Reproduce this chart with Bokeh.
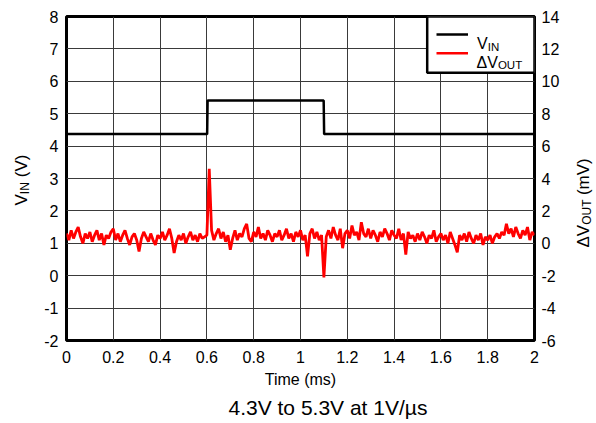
from math import pi
from bokeh.plotting import figure
from bokeh.models import Range1d, LinearAxis, FixedTicker, Label, BoxAnnotation, Title
from bokeh.embed import file_html
from bokeh.resources import INLINE

# ---------------- data ----------------
x_ticks = [0, 0.2, 0.4, 0.6, 0.8, 1.0, 1.2, 1.4, 1.6, 1.8, 2.0]
x_tick_labels = ["0", "0.2", "0.4", "0.6", "0.8", "1", "1.2", "1.4", "1.6", "1.8", "2"]
vin_ticks = [-2, -1, 0, 1, 2, 3, 4, 5, 6, 7, 8]
vin_tick_labels = ["-2", "-1", "0", "1", "2", "3", "4", "5", "6", "7", "8"]
dv_ticks = [-6, -4, -2, 0, 2, 4, 6, 8, 10, 12, 14]
dv_tick_labels = ["-6", "-4", "-2", "0", "2", "4", "6", "8", "10", "12", "14"]

vin_time = [0.0, 0.601, 0.603, 1.099, 1.101, 2.0]
vin_values = [4.37, 4.37, 5.41, 5.41, 4.37, 4.37]

dv_values = [
    0.6, 0.2, 0.8, 0.3, 0.7, 1.0, 0.4, 0.0, 0.6, 0.3,
    0.7, 0.1, 0.5, 0.8, 0.2, 0.6, -0.1, 0.5, 0.3, 0.7,
    0.9, 0.2, 0.6, 0.1, 0.5, 0.8, 0.3, -0.1, 0.4, 0.6,
    0.2, -0.5, 0.3, 0.7, 0.4, 0.1, 0.6, 0.2, -0.1, 0.5,
    0.3, 0.7, 0.2, 0.5, 0.9, 0.3, -0.6, 0.1, 0.5, 0.2,
    0.6, 0.0, 0.4, 0.7, 0.2, 0.5, 0.1, 0.6, 0.3, 0.4,
    0.5, 4.6, 0.8, 0.2, 0.6, 0.9, 0.3, 0.7, 0.1, 0.5,
    -0.4, 0.3, 0.8, 0.2, 0.6, 0.4, 0.9, 1.2, 0.3, 0.1,
    0.7, 0.4, 1.0, 0.3, 0.6, 0.2, 0.8, 0.5, 0.1, 0.6,
    0.4, 0.8, 0.2, 0.5, 0.9, 0.3, 0.6, 0.1, 0.7, 0.4,
    0.8, 0.2, 0.5, -0.8, 0.6, 0.9, 0.3, 0.7, 0.2, 0.5,
    -2.1, 0.4, 0.8, 0.3, 1.0, 0.5, 0.2, 0.9, -0.3, 0.6,
    0.8, 0.3, 1.1, 0.5, 0.7, 0.2, 1.3, 0.6, 0.4, 0.9,
    0.3, 0.8, 0.5, 0.1, 0.7, 0.4, 0.9, 0.6, 0.2, 0.8,
    0.5, 0.3, 0.9, 0.2, 0.6, -0.7, 0.7, 0.3, 0.5, 0.1,
    0.6, 0.2, 0.7, 0.4, 0.0, 0.5, 0.3, 0.8, 0.1, 0.4,
    0.6, 0.2, 0.5, 0.0, 0.7, 0.3, -0.1, -0.55, 0.5, 0.2,
    0.6, 0.1, 0.7, 0.3, 0.0, 0.5, 0.2, 0.6, -0.1, 0.4,
    0.2, 0.5, 0.0, 0.4, 0.6, 0.3, 0.7, 0.5, 1.2, 0.6,
    0.9, 0.4, 1.0, 0.6, 0.3, 0.8, 0.5, 1.0, 0.2, 0.7,
    0.5,
]
dv_time = [round(i * 0.01, 2) for i in range(len(dv_values))]

# ---------------- layout helpers (window px -> left-axis data coords) ----------------
W, H = 596, 423
FL, FR, FT, FB = 66, 534, 16, 340
def X(wx):
    return (wx - FL) / (FR - FL) * 2.0
def Y(wy):
    return 8 - (wy - FT) / (FB - FT) * 10.0

FONT = "Liberation Sans"

p = figure(width=W, height=H, x_range=Range1d(0, 2), y_range=Range1d(-2, 8),
           output_backend="svg", toolbar_location=None,
           min_border_left=FL, min_border_right=W - FR,
           min_border_top=FT, min_border_bottom=H - FB)
p.extra_y_ranges = {"dv": Range1d(-6, 14)}
p.add_layout(LinearAxis(y_range_name="dv"), "right")

p.background_fill_color = "white"
p.border_fill_color = "white"
p.outline_line_color = "black"
p.outline_line_width = 3
p.outline_line_alpha = 1

p.xaxis.ticker = FixedTicker(ticks=x_ticks)
p.xaxis.major_label_overrides = dict(zip(x_ticks, x_tick_labels))
p.yaxis[0].ticker = FixedTicker(ticks=vin_ticks)
p.yaxis[0].major_label_overrides = dict(zip(vin_ticks, vin_tick_labels))
p.yaxis[1].ticker = FixedTicker(ticks=dv_ticks)
p.yaxis[1].major_label_overrides = dict(zip(dv_ticks, dv_tick_labels))

for ax in p.axis:
    ax.axis_line_color = None
    ax.major_tick_line_color = None
    ax.minor_tick_line_color = None
    ax.major_tick_out = 0
    ax.major_tick_in = 0
    ax.major_label_text_font = FONT
    ax.major_label_text_font_size = "16px"
    ax.major_label_text_color = "black"
p.xaxis.major_label_standoff = 10
p.yaxis[0].major_label_standoff = 8
p.yaxis[1].major_label_standoff = 7

p.xaxis.axis_label = "Time (ms)"
p.xaxis.axis_label_text_font = FONT
p.xaxis.axis_label_text_font_size = "16px"
p.xaxis.axis_label_text_font_style = "normal"
p.xaxis.axis_label_text_color = "black"
p.xaxis.axis_label_standoff = 5

p.add_layout(Title(text="4.3V to 5.3V at 1V/\u00b5s", align="left", offset=162,
                   text_font=FONT, text_font_size="21px", text_font_style="normal",
                   text_color="black", standoff=6), "below")

p.xgrid.ticker = FixedTicker(ticks=x_ticks)
p.ygrid.ticker = FixedTicker(ticks=vin_ticks)
p.grid.grid_line_color = "#3a3a3a"
p.grid.grid_line_width = 1
p.grid.grid_line_alpha = 1

# legend box
p.add_layout(BoxAnnotation(left=X(426.7), right=2, top=8, bottom=Y(72.3),
                           fill_color="white", fill_alpha=1, line_color="black",
                           line_width=2.5, line_alpha=1, level="underlay"))

# data
p.line(vin_time, vin_values, line_color="black", line_width=2.5)
p.line(dv_time, dv_values, line_color="#ff0000", line_width=2.8, y_range_name="dv")

# legend samples
p.segment(x0=[X(436)], y0=[Y(34)], x1=[X(467.5)], y1=[Y(34)], line_color="black", line_width=2.5)
p.segment(x0=[X(436)], y0=[Y(52.7)], x1=[X(467.5)], y1=[Y(52.7)], line_color="#ff0000", line_width=2.5)

def lab(text, wx, wy, size, align="left", angle=0.0, side="center"):
    l = Label(x=X(wx), y=Y(wy), text=text, text_font=FONT,
              text_font_size=f"{size}px", text_align=align,
              text_baseline="alphabetic", angle=angle, text_color="black")
    p.add_layout(l, side)

# legend texts
lab("V", 476.5, 43, 16)
lab("IN", 476.5 + 10.7, 46, 11.5)
lab("\u0394V", 476, 61.5, 16)
lab("OUT", 476 + 21.4, 64.5, 11.5)

# left axis title (rotated, reading bottom-to-top); gap left for the subscript
s = 17
y0 = 205
lab("V\u2002\u2002(V)", 21, y0, s, angle=pi / 2, side="left")
lab("IN", 24, y0 - 0.667 * s, 12, angle=pi / 2, side="left")

# right axis title
y1 = 247
lab("\u0394V\u2003\u2002\u2005(mV)", 583, y1, s, angle=pi / 2, side="right")
lab("OUT", 586, y1 - 1.335 * s, 12, angle=pi / 2, side="right")

open("out.html", "w").write(file_html(p, INLINE))
